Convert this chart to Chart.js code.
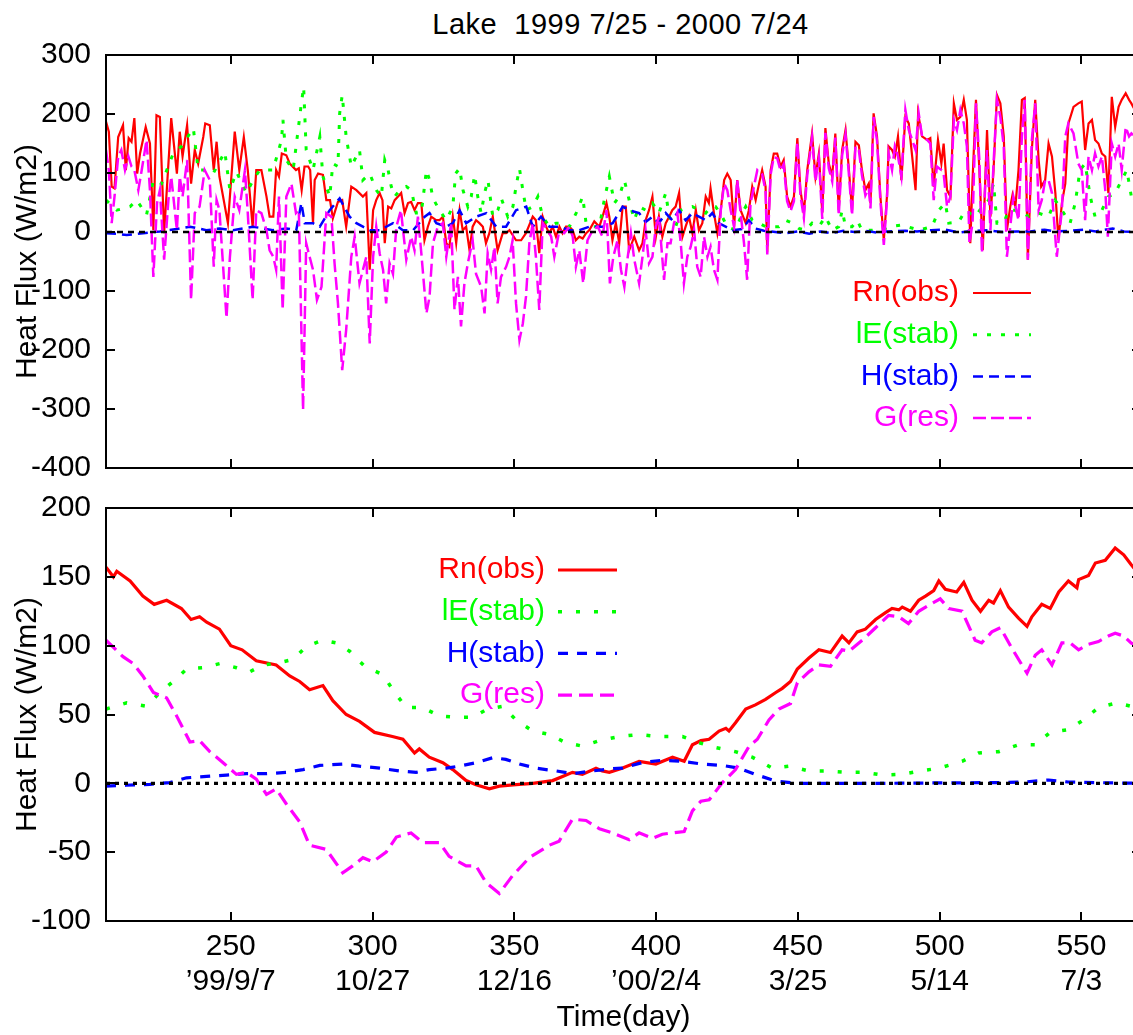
<!DOCTYPE html>
<html>
<head>
    <title>Lake heat flux 1999-2000</title>
    <script src="https://cdn.jsdelivr.net/npm/chart.js"></script>
    <style>
        html, body { margin: 0; padding: 0; background: #fff; overflow: hidden; }
        body { width: 1133px; height: 1035px; position: relative; font-family: "Liberation Sans", Arial, sans-serif; }
        #title { position: absolute; left: 0; width: 1241px; top: 10px; text-align: center; font-size: 29px; line-height: 29px; letter-spacing: 0.5px; white-space: pre; color: #000; }
        #topChart { position: absolute; left: 0; top: 0; }
        #bottomChart { position: absolute; left: 0; top: 475px; }
    </style>
</head>
<body>
    <div id="title">Lake  1999 7/25 - 2000 7/24</div>
    <canvas id="topChart" width="1150" height="501"></canvas>
    <canvas id="bottomChart" width="1150" height="560"></canvas>
    <script>
        const FONT = '"Liberation Sans", Arial, sans-serif';

        // x axis: day number, with calendar date under each tick
        const xTickDays = [250, 300, 350, 400, 450, 500, 550];
        const xTickDates = ['\u201999/9/7', '10/27', '12/16', '\u201900/2/4', '3/25', '5/14', '7/3'];
        const yTicksTop = [-400, -300, -200, -100, 0, 100, 200, 300];
        const yTicksBottom = [-100, -50, 0, 50, 100, 150, 200];
        const seriesNames = ['Rn(obs)', 'lE(stab)', 'H(stab)', 'G(res)'];

        // top panel: daily values [day, W/m2]
        const topRn = [[206,187],[207,170],[208,77],[209,74],[210.3,161],[212,181],[213,105],[214,159],[215,153],[216,193],[217,99],[218,133],[220,178],[221.5,150],[222.7,3],[223.8,198],[225,195],[226.5,-2],[229,193],[231,99],[232,170],[233,128],[234.6,181],[236,82],[237.3,139],[238.5,116],[240.3,161],[241,184],[242.6,181],[244,105],[245,153],[246,94],[249,15],[251.4,170],[253,105],[254.6,161],[256,105],[257.7,9],[259,105],[260.8,105],[262.6,60],[263.7,26],[265,26],[266,105],[267,94],[268,133],[269.6,130],[270.8,116],[273,105],[274,108],[275,71],[276,111],[277.3,111],[278,105],[279,15],[279.6,88],[280.8,99],[282.5,97],[283.7,54],[285,54],[286,23],[287.8,51],[289.3,54],[290.7,9],[292.5,77],[294.3,71],[296.6,60],[297.8,66],
            [299,-64],[300.2,37],[301.3,54],[302.5,66],[303.5,54],[304.3,-19],[305.5,43],[306.6,40],[307.8,54],[309,60],[310.1,66],[311.3,32],[312.5,49],[313.6,51],[314.8,37],[316,49],[317.2,49],[318.3,-14],[319.5,9],[320.7,26],[322.4,20],[323.6,20],[324.8,26],[326,-19],[327.1,-25],[328.3,26],[329.5,-19],[330.7,37],[331.8,3],[333,9],[334.2,-31],[335.3,9],[336.5,20],[337.7,15],[338.9,9],[340,-19],[341.2,-2],[342.4,26],[344.1,-31],[345.9,-2],[347.1,-2],[348.3,3],[350.6,-14],[352.4,-14],[354.1,-2],[356.5,26],[357.6,20],[358.8,-36],[360,26],[361.2,9],[362.3,-2],[363.5,9],[364.7,-8],[365.9,9],[367,-2],[368.2,9],[369.4,9],[370.6,3],[371.7,-14],[372.9,-8],[374.1,-11],[375.3,-2],[376.4,3],[378.2,18],[380,9],[381.1,26],[382.5,49],[383.5,26],[384.6,-14],[385.8,15],[387,-19],[388.2,43],[389.3,43],[390.5,-31],[392.3,-8],
            [394,-31],[395.2,-19],[396.3,20],[397.5,37],[398.7,60],[399.9,-8],[401,26],[402.2,-8],[403.4,15],[404.6,26],[405.7,37],[406.9,43],[408.1,66],[409.3,-8],[410.4,9],[411.6,26],[412.8,-2],[414,37],[415.1,3],[416.3,15],[417.5,60],[418.6,49],[419.2,74],[420.4,32],[421.6,-2],[422.8,37],[424,88],[425.1,99],[426.3,88],[427.5,9],[428.6,88],[429.8,37],[431.6,15],[432.7,37],[433.9,77],[435.1,54],[436.3,82],[437.4,105],[438.6,77],[439.2,-33],[440.4,105],[441.5,133],[442.7,133],[443.9,111],[445,122],[446.2,60],[447.4,43],[448.6,60],[449.8,159],[450.9,71],[452.1,32],[453.3,105],[455,167],[456.2,94],[457.4,133],[458.6,32],[459.7,176],[460.9,116],[462.1,94],[463.2,167],[464.4,37],[465.6,139],[466.8,173],[467.9,111],[469.1,37],[470.3,153],[471.5,147],[472.6,105],[473.8,71],[475,82],[475.6,49],[476.7,201],[477.9,162],[479.1,60],[480.3,-14],[481.4,60],
            [482,145],[483.2,139],[484.2,128],[485.3,162],[486.5,88],[487.9,195],[489.1,184],[490.3,128],[491.5,71],[492.4,201],[493.8,162],[495.6,156],[496.7,159],[497.9,77],[499.4,156],[500.6,116],[501.4,150],[502.6,71],[503.8,60],[505,218],[506.1,190],[507.3,195],[508.5,224],[509.6,190],[510.8,-19],[511.6,88],[512.8,224],[514,105],[515.2,-31],[516.7,173],[517.9,26],[519,105],[520.2,232],[521.4,218],[522.6,162],[523.7,3],[524.9,43],[525.7,63],[526.7,43],[527.8,105],[529,224],[530,227],[531.1,-47],[532.5,139],[533.7,224],[534.9,122],[535.8,77],[537.2,88],[538.4,150],[539.6,128],[540.8,66],[541.9,-14],[543.1,49],[544.3,82],[545.4,184],[547.2,212],[548.9,218],[550.1,221],[551.3,139],[552.5,184],[553.7,190],[554.8,156],[556,150],[557.2,133],[558.4,128],[559.5,66],[560.7,229],[561.9,178],[563.1,212],[564.2,224],[565.6,235],[566.8,224],[567.6,218],[569,205],[571,190]];

        const topLE = [[206,54],[209.8,37],[214.5,43],[216.8,54],[220.3,29],[222.7,88],[225.6,82],[229.7,133],[232.6,145],[236.8,176],[238.5,105],[240.3,105],[243.8,99],[247.9,136],[249.7,71],[252,102],[255.5,66],[257.9,88],[260.2,105],[264.9,105],[267.9,156],[268.4,190],[269.6,122],[272,105],[274.9,218],[275.7,246],[276.6,139],[279,105],[281.4,161],[282.5,94],[284.9,60],[286,116],[287.8,111],[288.4,201],[289.3,232],[290.7,161],[292.5,111],[295.4,139],[296.6,88],
            [299,99],[301.3,71],[303.1,60],[304.3,122],[305.5,105],[306.6,77],[307.8,60],[309.6,71],[311.9,77],[313.7,71],[315.4,32],[317.2,32],[319,105],[320.1,88],[321.3,57],[323.6,37],[326,20],[328.3,43],[329.3,99],[330.7,108],[331.9,71],[333.6,43],[334.8,60],[336,97],[337.1,60],[338.3,32],[339.5,66],[340.7,88],[342.4,26],[344.2,37],[345.4,57],[347.7,26],[349.5,43],[350.6,77],[351.8,108],[353,71],[354.2,37],[356.5,43],[358.3,60],[360,26],[362.4,9],[364.7,15],[367.1,15],[369.4,9],[371.8,32],[374.1,60],[375.3,15],[377.6,9],[380,9],[381.7,54],[383.5,94],[385.3,49],[387,60],[388.8,88],[390.5,54],[392.3,20],
            [394,43],[396.3,37],[398.7,49],[401,32],[403.4,66],[404.6,26],[406.9,9],[408.7,37],[410.4,40],[412.8,43],[415.1,37],[417.5,32],[419.2,43],[421,43],[423.3,26],[425.1,9],[428,3],[430.4,32],[431.6,43],[433.9,20],[436.3,15],[438.6,9],[440.9,9],[443.3,9],[445.6,20],[448,15],[450.3,6],[452.7,3],[455,15],[457.4,9],[459.7,26],[462.1,3],[464.4,9],[465.6,37],[466.8,9],[469.1,9],[470.9,20],[472.6,3],[476.2,3],[480.9,6],
            [482,9],[486.8,12],[492.6,3],[497.3,9],[499.7,37],[502,49],[503.2,15],[506.7,17],[509.1,37],[512.6,26],[515,43],[517.3,54],[519,82],[520.2,15],[522.6,15],[524.3,37],[527.8,37],[531.4,26],[534.9,32],[538.4,26],[540.7,54],[543.1,37],[546,15],[547.8,49],[549.5,105],[551.3,116],[553.1,60],[554.8,26],[557.2,37],[559.5,60],[561.9,66],[564.2,88],[566,105],[567.6,60],[569,70],[571,55]];

        const topH = [[206,-2],[209.8,-3],[213.3,-5],[219.1,-2],[225,1],[230.9,5],[235.6,9],[241.4,3],[246.1,6],[250.8,3],[257.9,9],[264.9,3],[269.6,6],[273.1,3],[274.9,49],[276.1,15],[279,15],[281.4,9],[284.9,37],[288.4,57],[291.9,26],[294.3,15],[296.6,9],
            [299,3],[302.5,3],[307.2,15],[310.7,3],[314.3,3],[318.4,26],[320.1,32],[322.5,15],[326,9],[328.3,15],[330.7,37],[333,15],[336.6,26],[340.1,32],[343.6,9],[347.1,9],[350.6,37],[354.2,43],[356.5,9],[359.4,26],[362.4,9],[365.9,9],[369.4,3],[372.9,3],[376.5,9],[381.2,9],[384.7,15],[388.2,43],[390.5,37],
            [394,32],[396.3,17],[398.7,26],[401,15],[403.4,32],[405.7,20],[408.1,37],[410.4,20],[412.8,32],[415.1,26],[417.5,20],[419.8,32],[422.1,15],[424.5,9],[427,3],[430.4,5],[432.7,20],[435,6],[438,2],[442,0],[446,-2],[450,1],[454,-3],[458,1],[462,-2],[466,2],[470,0],[474,2],[478,-1],[481,1],
            [482,1],[488,2],[492,1],[497,3],[502,4],[507,-1],[512,2],[517,3],[522,0],[527,1],[532,1],[537,4],[541,1],[546,2],[551,4],[555,1],[561,6],[565,1],[571,0]];

        const topG = [[206,139],[207,105],[208,15],[209,60],[210.3,128],[211.4,139],[212.7,105],[213.9,128],[215,111],[216,105],[217.4,71],[218.6,105],[220.3,156],[221.5,71],[222.7,-76],[224,49],[225,71],[226.5,-47],[228,54],[229,94],[231,3],[232,94],[233,60],[234.6,122],[236,-115],[237.3,32],[239,43],[240.8,105],[242.6,88],[244,-59],[245,54],[246,37],[248.5,-146],[249.7,-42],[251.4,60],[253,37],[255,105],[256,32],[257.7,-115],[259,37],[260.8,32],[262.6,3],[263.7,-31],[265,-42],[266,-64],[267,60],[268.3,-132],[269.6,60],[271.4,82],[273,32],[274,37],[275.5,-302],[276.6,-19],[277.8,-42],[279,-64],[280.4,-115],[282,-93],[283.7,32],[285.5,26],[286.6,-53],[287.8,-121],[289.3,-234],[290.7,-166],[292.5,-42],[293.7,-8],[295.4,-87],[297.8,-42],
            [299,-189],[300.2,-42],[301.3,9],[302.5,-36],[303.7,-64],[304.8,-121],[306,-53],[307.2,-71],[308.4,9],[310,37],[311.9,-47],[313.6,-8],[314.8,-31],[316,26],[317.2,-36],[319,-138],[320.1,-110],[321.3,-19],[323,9],[324.8,15],[326,-42],[327.7,15],[328.9,-132],[330.1,-76],[331.2,-160],[332.4,-87],[333.6,-53],[335.3,-14],[336.5,-71],[338.3,-93],[339.5,-138],[340.6,-36],[341.8,-64],[343,-25],[344.1,-121],[345.3,-76],[347.1,-59],[348.3,-42],[349.4,-14],[350.6,-121],[351.8,-183],[353,-155],[354.1,-110],[355.3,-19],[356.5,15],[357.6,-42],[358.8,-132],[360,15],[361.8,3],[363,-8],[364.1,-42],[365.9,3],[367.6,-2],[369.4,9],[370.6,-8],[371.7,-59],[372.9,-31],[374.3,-87],[375.8,-14],[377.6,3],[379.4,9],[381.1,-8],[382.5,37],[383.7,-87],[384.9,-42],[386.4,-14],[387.6,-64],[388.8,-93],[390,-42],[391.1,-2],[392.3,-47],
            [394,-87],[395.2,-42],[396.3,3],[397.5,-53],[398.7,-42],[399.9,9],[401,26],[402.8,-81],[404,-19],[405.1,-19],[406.3,15],[407.5,32],[408.7,-19],[409.8,-87],[411,-42],[412.2,-25],[413.4,3],[414.5,-59],[415.7,-76],[416.9,-8],[418.1,-42],[419.2,-25],[420.4,-64],[421.6,-81],[422.8,37],[424,82],[425.1,71],[426.3,37],[427.5,9],[428.6,88],[429.8,32],[431,-19],[432.1,-81],[433.3,49],[434.5,77],[435.7,105],[437.4,98],[438.6,70],[439.2,-38],[440.4,98],[441.5,127],[442.7,125],[443.9,104],[445,115],[446.2,52],[447.4,35],[448.6,52],[449.8,152],[450.9,62],[452.1,24],[453.3,96],[455,160],[456.2,86],[457.4,125],[458.6,22],[459.7,168],[460.9,108],[462.1,86],[463.2,160],[464.4,28],[465.6,130],[466.8,165],[467.9,103],[469.1,28],[470.3,145],[471.5,139],[472.6,96],[473.8,62],[475,74],[475.6,40],[476.7,195],[477.9,155],[479.1,52],[480.3,-22],[481.4,52],
            [482,133],[483.2,105],[484.2,145],[485.3,128],[486.5,94],[487.9,207],[489.1,173],[490.3,156],[491.5,139],[492.6,201],[493.8,162],[495.6,156],[496.7,150],[497.9,54],[499,111],[500.6,105],[501.4,99],[502.6,43],[503.8,60],[505,190],[506.1,173],[507.3,207],[508.5,184],[509.6,145],[510.5,-19],[511.6,15],[512.8,218],[514,122],[514.9,-36],[516.7,139],[517.9,3],[519,116],[520.2,224],[521.4,195],[522.6,145],[523.7,-42],[524.9,9],[526,60],[527.8,20],[529,162],[530,224],[531.1,-47],[532.5,156],[533.7,218],[534.9,37],[536,54],[537.2,88],[538.4,88],[539.6,66],[541.3,-42],[543.1,37],[544.3,162],[545.4,184],[547.2,167],[548.9,116],[550.1,105],[551.3,20],[552.5,128],[553.7,105],[554.8,133],[556,111],[557.2,128],[558.4,71],[559.3,-8],[560.7,150],[561.9,128],[563.1,150],[564.2,105],[565.6,178],[566.8,162],[567.6,167],[569,160],[571,150]];

        // bottom panel: running means [day, W/m2]
        const botRn = [[206,157],[208.6,150],[209.8,154],[214.5,147],[219,136],[223,130],[227.4,133],[232.6,127],[236,119],[239,121],[241.5,117],[246,112],[250,100],[254,97],[259,89],[266,86],[270.8,78],[274.3,74],[277.8,68],[282.5,71],[286,60],[290.7,50],[295.4,45],[300.7,37],[307,34],[310.7,32],[314.8,22],[316.5,25],[320,19],[324.8,15],[328.3,10],[333,2],[336.5,-1],[341.2,-4],[344.7,-2],[350.6,-1],[356.5,0],[363.5,2],[367,5],[370.5,8],[374,6.5],[378.8,11],[381,9],[383.5,8],[388,11],[394,16],[399.9,14],[405.8,19],[409.9,16],[412.8,28],[415.8,31],[418.7,32],[422.2,38],[424.6,40],[425.7,38],[428,44],[431.6,54],[435,57],[438.6,61],[442.2,66],[444.5,69],[447.4,74],[449.8,83],[453.9,91],[457.4,97],[461.5,95],[465.6,107],[468,102],[470.9,110],[473.8,112],[477.4,119],[480.9,124],[483.2,127],[485.6,126],[486.8,128],[489.7,125],[492.6,133],[495,136],[497.9,140],[499.7,147],[502,141],[506,139],[508.5,146],[511.4,133],[514.4,125],[517.3,133],[519,131],[521.4,140],[524.3,128],[527.8,120],[530.8,114],[532.5,121],[536,130],[539,127],[542,139],[545.4,147],[548.4,142],[549,148],[552.5,151],[554.9,160],[558.4,162],[561.9,171],[564.9,166],[567.5,159],[571,150]];

        const botLE = [[206,54],[213.3,58.5],[220.3,56],[225,66],[229.7,74],[234.4,83],[240.3,84],[246.1,87],[252,84],[256.7,81],[261.4,86],[266.7,87.5],[272,90],[276.7,99.5],[282.5,104],[287.2,102],[291.9,96],[297.2,85],[303.6,79],[307.8,66],[311.9,55],[317.7,55],[323.6,49],[329.5,48],[335.3,48],[340.6,54],[345.9,56],[350.6,46],[356.5,38],[362.3,35.5],[368.2,29.5],[374.1,27],[380,31],[387,34],[394,35.5],[401,34],[409.3,34],[415.2,29.5],[421,26],[428,23],[433.9,19],[441,11],[446.8,12.5],[453.9,9],[459.8,9],[466.8,8],[473.8,8],[479.7,6],[486.8,6.5],[493.2,9],[499.7,11],[507.9,16],[513.7,22],[520.8,23],[527.8,28],[533.7,28],[539,37],[545.4,39],[550.7,46],[556,55],[562.4,58.5],[567.5,56],[571,52]];

        const botH = [[206,-2],[213,-1.4],[221.5,-0.7],[228.5,0.5],[234.4,4],[241.5,5],[248.5,6],[255.5,7],[262.6,7],[269.6,8],[275.5,10],[281.4,13],[289.6,14],[295.4,12.5],[302.5,11],[309.5,9],[315.4,8],[320,10],[326,11],[330.6,12.5],[336.5,15],[342.4,18.6],[347,17.4],[351.8,14],[357.7,11],[364.7,9],[370.5,7],[377.6,9],[384.6,10.6],[388,11],[395,15],[402,16.7],[409.3,16],[416.3,14],[423.4,13],[429.2,11],[435,6.5],[442.2,1.7],[449.3,0],[460,0],[480,0],[500,0.3],[520,0.5],[530,1],[538.4,2.4],[545,1],[555,0.5],[571,0]];

        const botG = [[206,104],[212,92],[215.6,87],[219,78],[222.7,66],[227.4,62],[230.9,49],[235.6,30],[239,31],[242.6,23],[247.3,15],[252,6.5],[255.5,8],[259,3],[262.6,-8],[266,-4],[269.6,-15],[274.3,-28],[277.8,-45],[283.7,-48],[289.5,-65],[293,-60],[296.6,-54],[300.1,-57],[304.8,-50],[308.4,-39],[313.6,-36],[317.7,-43],[323.6,-43],[327,-53],[333,-60],[336.5,-60],[340,-72],[344.7,-80],[349.4,-67],[355.3,-54],[362.3,-45],[365.8,-42],[370.5,-26],[375.3,-27],[380,-33],[384.6,-36],[390.5,-41],[394,-36],[398.7,-40],[402.2,-37],[405.8,-36],[409.9,-35],[412.8,-20],[415.8,-13],[418.7,-12],[423.4,0.5],[428,10],[432.8,27],[435.7,32],[439.8,46],[443.3,54],[447.4,58],[449.8,73],[453.9,81],[457.4,86],[461.5,85],[465.6,97],[468,96],[472.7,104],[477.4,113],[482,122],[485.6,121],[489,116],[492.6,125],[496.7,130],[500.2,134],[503.2,127],[507.9,125],[512.5,104],[514.8,102],[518.4,110],[521.4,113],[525.5,98],[529,86],[530.8,80],[533.7,93],[536,97],[539.6,86],[543.1,102],[546,102],[549,97],[552.5,101],[556,103],[559.5,107],[561.9,109],[564.9,107],[567.5,102],[571,98]];

        const zeroLine = [[206, 0], [571, 0]];

        const toXY = pairs => pairs.map(p => ({ x: p[0], y: p[1] }));

        // gnuplot-style frame: full box, ticks pointing inwards on all four sides
        const framePlugin = {
            id: 'frame',
            afterDatasetsDraw(chart) {
                const { ctx, chartArea: a, scales: { x, y } } = chart;
                ctx.save();
                ctx.strokeStyle = '#000';
                ctx.lineWidth = 2;
                ctx.setLineDash([]);
                ctx.beginPath();
                xTickDays.forEach(v => {
                    const px = Math.round(x.getPixelForValue(v));
                    ctx.moveTo(px, a.bottom); ctx.lineTo(px, a.bottom - 9);
                    ctx.moveTo(px, a.top); ctx.lineTo(px, a.top + 9);
                });
                y.ticks.forEach(t => {
                    const py = Math.round(y.getPixelForValue(t.value));
                    ctx.moveTo(a.left, py); ctx.lineTo(a.left + 9, py);
                    ctx.moveTo(a.right, py); ctx.lineTo(a.right - 9, py);
                });
                ctx.stroke();
                ctx.strokeRect(a.left, a.top, a.right - a.left, a.bottom - a.top);
                ctx.restore();
            }
        };

        // key drawn inside the plot: text right-aligned, line sample to its right
        const keyPlugin = {
            id: 'key',
            afterDraw(chart, args, opts) {
                const ctx = chart.ctx;
                ctx.save();
                ctx.font = '30px ' + FONT;
                ctx.textAlign = 'right';
                ctx.textBaseline = 'middle';
                chart.data.datasets.filter(d => d.label).forEach((d, i) => {
                    const y = opts.top + i * opts.step;
                    ctx.fillStyle = d.borderColor;
                    ctx.fillText(d.label, opts.right, y);
                    ctx.strokeStyle = d.borderColor;
                    ctx.lineWidth = d.borderWidth;
                    ctx.setLineDash(d.borderDash || []);
                    ctx.beginPath();
                    ctx.moveTo(opts.x0, y);
                    ctx.lineTo(opts.x1, y);
                    ctx.stroke();
                });
                ctx.restore();
            }
        };

        function makeChart(id, o) {
            return new Chart(document.getElementById(id), {
                type: 'line',
                data: {
                    datasets: [
                        { label: seriesNames[0], data: toXY(o.rn), borderColor: '#ff0000', borderWidth: o.w.rn, order: 5 },
                        { label: seriesNames[1], data: toXY(o.le), borderColor: '#00ff00', borderWidth: o.w.le, borderDash: o.dash.le, order: 4 },
                        { label: seriesNames[2], data: toXY(o.h), borderColor: '#0000ff', borderWidth: o.w.h, borderDash: o.dash.h, order: 3 },
                        { label: seriesNames[3], data: toXY(o.g), borderColor: '#ff00ff', borderWidth: o.w.g, borderDash: o.dash.g, order: 2 },
                        { label: '', data: toXY(zeroLine), borderColor: '#000000', borderWidth: o.w.zero, borderDash: o.dash.zero, order: 1 }
                    ]
                },
                options: {
                    responsive: false,
                    animation: false,
                    events: [],
                    elements: { point: { radius: 0 }, line: { tension: 0, fill: false, borderCapStyle: 'butt' } },
                    layout: { padding: o.padding },
                    plugins: {
                        legend: { display: false },
                        tooltip: { enabled: false },
                        key: o.key
                    },
                    scales: {
                        x: {
                            type: 'linear', min: 206, max: 571,
                            grid: { display: false, drawTicks: false },
                            border: { display: false },
                            afterBuildTicks: s => { s.ticks = xTickDays.map(v => ({ value: v })); },
                            afterFit: s => { s.height = o.xHeight; },
                            ticks: {
                                display: o.xLabels, padding: 8, color: '#000',
                                font: { family: FONT, size: 30, lineHeight: 35 / 30 },
                                callback: v => [String(v), xTickDates[xTickDays.indexOf(v)]]
                            },
                            title: {
                                display: o.xLabels, text: 'Time(day)', color: '#000',
                                font: { family: FONT, size: 30, lineHeight: 1.13 }, padding: { top: 0, bottom: 0 }
                            }
                        },
                        y: {
                            min: o.yTicks[0], max: o.yTicks[o.yTicks.length - 1],
                            grid: { display: false, drawTicks: false },
                            border: { display: false },
                            afterBuildTicks: s => { s.ticks = o.yTicks.map(v => ({ value: v })); },
                            afterFit: s => { s.width = 106; },
                            ticks: { padding: 15, color: '#000', font: { family: FONT, size: 30 } },
                            title: {
                                display: true, text: 'Heat Flux (W/m2)', color: '#000',
                                font: { family: FONT, size: 30 }, padding: { top: 10, bottom: 0 }
                            }
                        }
                    }
                },
                plugins: [framePlugin, keyPlugin]
            });
        }

        // top canvas spans page y 0..501, plot box 55..468
        makeChart('topChart', {
            rn: topRn, le: topLE, h: topH, g: topG,
            yTicks: yTicksTop,
            w: { rn: 2.2, le: 3, h: 2.5, g: 2.5, zero: 2.5 },
            dash: { le: [4, 10], h: [10, 6], g: [13, 5], zero: [6, 5] },
            padding: { top: 55, right: 9, bottom: 0, left: 0 },
            xHeight: 0, xLabels: false,
            key: { right: 959, top: 293, step: 41.7, x0: 973, x1: 1031 }
        });

        // bottom canvas spans page y 475..1035, plot box 508..921
        makeChart('bottomChart', {
            rn: botRn, le: botLE, h: botH, g: botG,
            yTicks: yTicksBottom,
            w: { rn: 3.2, le: 3.5, h: 3.2, g: 3.2, zero: 3.2 },
            dash: { le: [4, 14], h: [10, 9], g: [14, 7], zero: [4, 5] },
            padding: { top: 0, right: 9, bottom: 0, left: 0 },
            xHeight: 114, xLabels: true,
            key: { right: 545, top: 95, step: 41.7, x0: 558, x1: 617 }
        });
    </script>
</body>
</html>
